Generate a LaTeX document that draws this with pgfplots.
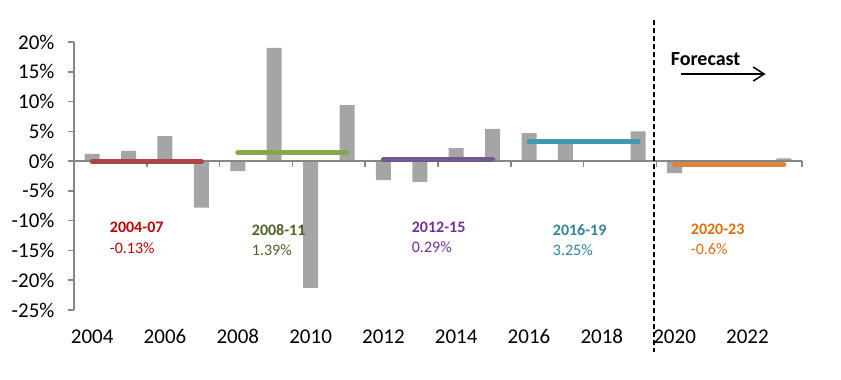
\documentclass[border=0pt]{standalone}
\usepackage{pgfplots}
\pgfplotsset{compat=1.18}
\usepackage{fontspec}
\setmainfont{Carlito}
\usetikzlibrary{arrows.meta}
\definecolor{bargray}{HTML}{A5A5A5}
\definecolor{axgray}{HTML}{868686}
\definecolor{lred}{HTML}{AA4643}
\definecolor{lgreen}{HTML}{89A54E}
\definecolor{lpurple}{HTML}{71588F}
\definecolor{lteal}{HTML}{4198AF}
\definecolor{lorange}{HTML}{DB843D}
\definecolor{tred}{HTML}{C00000}
\definecolor{tgreen}{HTML}{4F6228}
\definecolor{tpurple}{HTML}{7030A0}
\definecolor{tteal}{HTML}{31849B}
\definecolor{torange}{HTML}{E36C09}
\begin{document}
\begin{tikzpicture}
\begin{axis}[
  scale only axis, width=728pt, height=268pt,
  xmin=-0.5, xmax=19.5, ymin=-25, ymax=20,
  axis x line*=bottom, axis y line*=left,
  x axis line style={draw=none},
  y axis line style={draw=axgray, line width=1.5pt, -},
  xtick={0,2,...,18},
  xticklabels={2004,2006,2008,2010,2012,2014,2016,2018,2020,2022},
  xtick style={draw=none},
  ytick={-25,-20,...,20},
  yticklabels={-25\%,-20\%,-15\%,-10\%,-5\%,0\%,5\%,10\%,15\%,20\%},
  ytick style={draw=axgray, line width=1.5pt},
  tick align=outside, major tick length=6pt,
  ticklabel style={font=\fontsize{21}{24}\selectfont, text=black},
  xticklabel style={yshift=-10pt},
  yticklabel style={xshift=-10pt},
  clip=false,
]
\coordinate (BL) at (rel axis cs:0,0);
\coordinate (TR) at (rel axis cs:1,1);
\addplot[ybar, bar width=15pt, fill=bargray, draw=none] coordinates {
 (0,1.2) (1,1.7) (2,4.2) (3,-7.8) (4,-1.7) (5,19.0) (6,-21.3) (7,9.4)
 (8,-3.2) (9,-3.5) (10,2.2) (11,5.4) (12,4.7) (13,3.2) (14,0) (15,5.0)
 (16,-2.0) (17,-0.4) (18,-0.45) (19,0.45)};
\draw[axgray, line width=1.5pt] (axis cs:-0.5,0) -- (axis cs:19.5,0);
\pgfplotsinvokeforeach{1.5,3.5,5.5,7.5,9.5,11.5,13.5,15.5,17.5,19.5}{
  \draw[axgray, line width=1.5pt] (axis cs:#1,0) -- ([yshift=-6pt]axis cs:#1,0);
}
\addplot[lred, line width=5pt, line cap=round] coordinates {(0,-0.13) (3,-0.13)};
\addplot[lgreen, line width=5pt, line cap=round] coordinates {(4,1.39) (7,1.39)};
\addplot[lpurple, line width=5pt, line cap=round] coordinates {(8,0.29) (11,0.29)};
\addplot[lteal, line width=5pt, line cap=round] coordinates {(12,3.25) (15,3.25)};
\addplot[lorange, line width=5pt, line cap=round] coordinates {(16,-0.6) (19,-0.6)};
\draw[black, line width=2pt, dash pattern=on 5pt off 3pt] (axis cs:15.43,23.7) -- (axis cs:15.43,-32.1);
\node[anchor=base west, inner sep=0pt, font=\fontsize{20}{23}\selectfont\bfseries] at (axis cs:15.893,16.13) {Forecast};
\draw[black, line width=1.5pt, -{Straight Barb[length=11pt, width=14pt, line width=1.5pt]}] (axis cs:16.17,14.62) -- (axis cs:18.5,14.62);
\tikzset{ann/.style={anchor=base west, inner sep=0pt, font=\fontsize{16}{19}\selectfont}}
\node[ann, text=tred] at (axis cs:0.481,-12.05) {\bfseries 2004-07};
\node[ann, text=tred] at (axis cs:0.481,-15.51) {-0.13\%};
\node[ann, text=tgreen] at (axis cs:4.382,-12.55) {\bfseries 2008-11};
\node[ann, text=tgreen] at (axis cs:4.382,-15.85) {1.39\%};
\node[ann, text=tpurple] at (axis cs:8.777,-11.98) {\bfseries 2012-15};
\node[ann, text=tpurple] at (axis cs:8.777,-15.34) {0.29\%};
\node[ann, text=tteal] at (axis cs:12.651,-12.49) {\bfseries 2016-19};
\node[ann, text=tteal] at (axis cs:12.651,-15.85) {3.25\%};
\node[ann, text=torange] at (axis cs:16.442,-12.32) {\bfseries 2020-23};
\node[ann, text=torange] at (axis cs:16.442,-15.63) {-0.6\%};
\end{axis}
\path ([xshift=-74pt,yshift=-70pt]BL) rectangle ([xshift=39pt,yshift=42pt]TR);
\end{tikzpicture}
\end{document}
